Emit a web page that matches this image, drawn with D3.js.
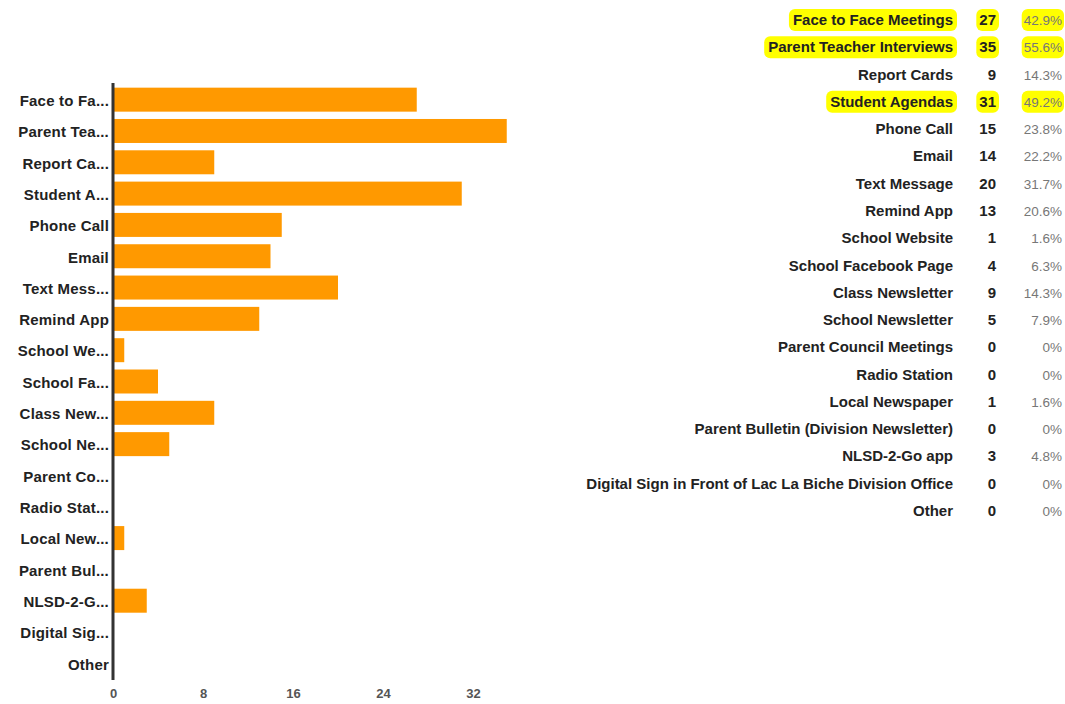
<!DOCTYPE html>
<html>
<head>
<meta charset="utf-8">
<script src="https://cdn.jsdelivr.net/npm/d3@7"></script>
<style>
  html, body { margin: 0; padding: 0; background: #fff; }
  svg { display: block; }
</style>
</head>
<body>
<svg id="chart" width="1065" height="704"></svg>
<script>
const categories = [
  "Face to Face Meetings", "Parent Teacher Interviews", "Report Cards", "Student Agendas",
  "Phone Call", "Email", "Text Message", "Remind App", "School Website",
  "School Facebook Page", "Class Newsletter", "School Newsletter", "Parent Council Meetings",
  "Radio Station", "Local Newspaper", "Parent Bulletin (Division Newsletter)", "NLSD-2-Go app",
  "Digital Sign in Front of Lac La Biche Division Office", "Other"
];
const shortLabels = [
  "Face to Fa...", "Parent Tea...", "Report Ca...", "Student A...",
  "Phone Call", "Email", "Text Mess...", "Remind App", "School We...",
  "School Fa...", "Class New...", "School Ne...", "Parent Co...",
  "Radio Stat...", "Local New...", "Parent Bul...", "NLSD-2-G...",
  "Digital Sig...", "Other"
];
const counts = [27, 35, 9, 31, 15, 14, 20, 13, 1, 4, 9, 5, 0, 0, 1, 0, 3, 0, 0];
const percents = ["42.9%", "55.6%", "14.3%", "49.2%", "23.8%", "22.2%", "31.7%", "20.6%", "1.6%",
  "6.3%", "14.3%", "7.9%", "0%", "0%", "1.6%", "0%", "4.8%", "0%", "0%"];
const highlighted = ["Face to Face Meetings", "Parent Teacher Interviews", "Student Agendas"];
const xTicks = [0, 8, 16, 24, 32];

const FONT = "'Liberation Sans', Arial, sans-serif";
const svg = d3.select("#chart");

// ---- Bar chart ----
const x = d3.scaleLinear().domain([0, 40]).range([113, 563]);
const y = d3.scaleBand().domain(categories).range([84, 679]).paddingInner(0.234).paddingOuter(0.117);

svg.append("g").selectAll("rect").data(categories).join("rect")
  .attr("x", x(0))
  .attr("y", d => y(d))
  .attr("width", (d, i) => x(counts[i]) - x(0))
  .attr("height", y.bandwidth())
  .attr("fill", "#ff9900");

const yAxis = svg.append("g").attr("transform", `translate(${x(0)},0)`)
  .call(d3.axisLeft(y).tickSize(0).tickPadding(4).tickFormat((d, i) => shortLabels[i]));
yAxis.select(".domain").attr("stroke", "#333").attr("stroke-width", 3).attr("d", "M0,83V680");
yAxis.selectAll("text").attr("font-family", FONT).attr("font-size", 15).attr("font-weight", "bold")
  .attr("fill", "#222").attr("dy", "0.42em").attr("letter-spacing", 0.2);

const xAxis = svg.append("g").attr("transform", "translate(0,686)")
  .call(d3.axisBottom(x).tickValues(xTicks).tickSize(0).tickPadding(3));
xAxis.select(".domain").remove();
xAxis.selectAll("text").attr("font-family", FONT).attr("font-size", 13).attr("font-weight", "bold").attr("fill", "#555");

// ---- Table ----
const rowY = d3.scalePoint().domain(categories).range([19, 510]);
const labelX = 953, countX = 996, pctX = 1062;
const table = svg.append("g");
const rows = table.selectAll("g").data(categories).join("g")
  .attr("transform", d => `translate(0,${rowY(d)})`);

rows.each(function(d, i) {
  const g = d3.select(this);
  const hi = highlighted.includes(d);
  const bg = g.append("g");
  const t1 = g.append("text").attr("x", labelX).attr("y", 6).attr("text-anchor", "end")
    .attr("font-family", FONT).attr("font-size", 15).attr("font-weight", "bold").attr("fill", "#222").text(d);
  const t2 = g.append("text").attr("x", countX).attr("y", 6).attr("text-anchor", "end")
    .attr("font-family", FONT).attr("font-size", 15).attr("font-weight", "bold").attr("fill", "#222").text(counts[i]);
  const t3 = g.append("text").attr("x", pctX).attr("y", 6).attr("text-anchor", "end")
    .attr("font-family", FONT).attr("font-size", 13.5).attr("fill", "#777").text(percents[i]);
  if (hi) {
    [[t1, 4], [t2, 3], [t3, 2]].forEach(([t, p]) => {
      const b = t.node().getBBox();
      bg.append("rect").attr("x", b.x - p).attr("y", -10).attr("width", b.width + 2 * p).attr("height", 22)
        .attr("rx", 6).attr("fill", "#ffff00");
    });
  }
});
</script>
</body>
</html>
